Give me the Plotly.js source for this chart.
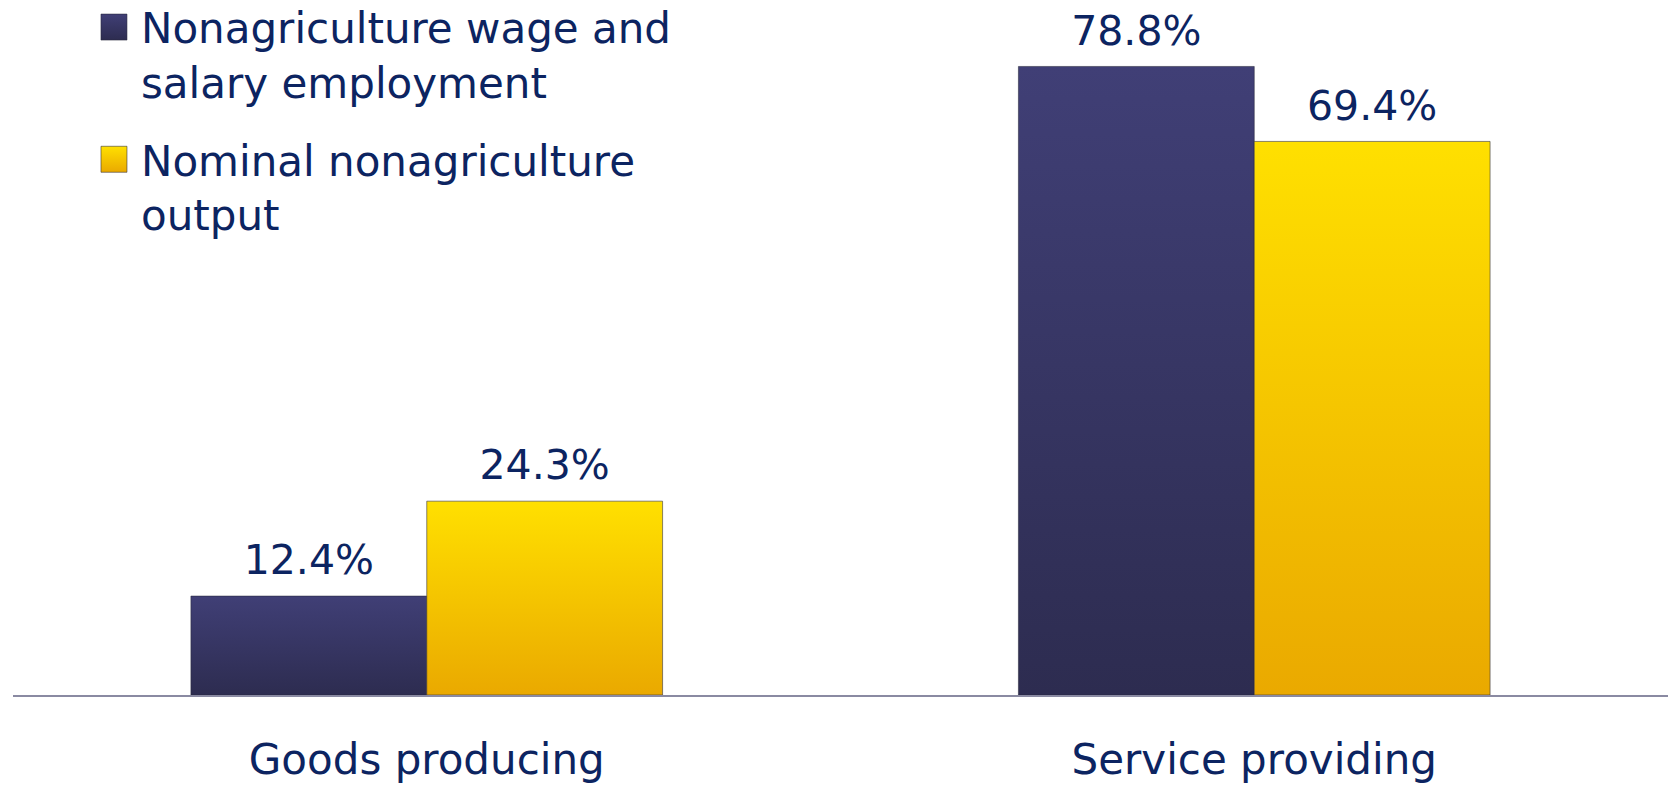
<!DOCTYPE html>
<html>
<head>
<meta charset="utf-8">
<script src="https://cdn.plot.ly/plotly-3.0.1.min.js"></script>
<style>
  html, body { margin: 0; padding: 0; background: #ffffff; }
  #chart { width: 1672px; height: 786px; }
</style>
</head>
<body>
<div id="chart"></div>
<script>
// ---- data ----
const categories = ["Goods producing", "Service providing"];
const seriesNames = [
  "Nonagriculture wage and<br>salary employment",
  "Nominal nonagriculture<br>output"
];
const employmentShare = [12.4, 78.8];
const outputShare = [24.3, 69.4];

const FONT = "'DejaVu Sans', Verdana, sans-serif";
const TXT = "#0c2461";
const BLUE = "#37366a";
const YELLOW = "#f7c600";

function barTrace(name, vals, color, group) {
  return {
    type: "bar",
    name: name,
    x: categories,
    y: vals,
    offsetgroup: group,
    legendgroup: group,
    marker: { color: color, line: { color: "rgba(40,40,60,0.55)", width: 1 } },
    hoverinfo: "skip"
  };
}
function labelTrace(vals, group) {
  return {
    type: "scatter",
    mode: "markers+text",
    x: categories,
    y: vals,
    offsetgroup: group,
    showlegend: false,
    marker: { size: 17, color: "rgba(0,0,0,0)" },
    text: vals.map(v => v.toFixed(1) + "%"),
    textposition: "top center",
    textfont: { family: FONT, size: 41, color: TXT },
    hoverinfo: "skip",
    cliponaxis: false
  };
}

const data = [
  barTrace(seriesNames[0], employmentShare, BLUE, "emp"),
  barTrace(seriesNames[1], outputShare, YELLOW, "out"),
  labelTrace(employmentShare, "emp"),
  labelTrace(outputShare, "out")
];

const layout = {
  width: 1672,
  height: 786,
  margin: { l: 13, r: 4, t: 17, b: 91, autoexpand: false },
  paper_bgcolor: "#ffffff",
  plot_bgcolor: "#ffffff",
  barmode: "group",
  scattermode: "group",
  bargap: 0.43,
  bargroupgap: 0,
  font: { family: FONT, color: TXT },
  showlegend: true,
  legend: {
    x: 0.0447, xanchor: "left",
    y: 1.035, yanchor: "top",
    bgcolor: "rgba(0,0,0,0)",
    font: { family: FONT, size: 42, color: TXT },
    valign: "top",
    itemwidth: 44,
    traceorder: "grouped",
    tracegroupgap: 20
  },
  xaxis: {
    type: "category",
    showline: true,
    linecolor: "#8a8aa2",
    linewidth: 2,
    ticks: "",
    showgrid: false,
    zeroline: false,
    tickfont: { family: FONT, size: 42, color: TXT },
    ticklabelstandoff: 27,
    fixedrange: true
  },
  yaxis: {
    range: [0, 85],
    visible: false,
    showgrid: false,
    zeroline: false,
    fixedrange: true
  }
};

Plotly.newPlot("chart", data, layout, { staticPlot: true, displayModeBar: false }).then(function (gd) {
  const svg = gd.querySelector(".main-svg");
  const ns = "http://www.w3.org/2000/svg";
  let defs = svg.querySelector("defs");
  if (!defs) { defs = document.createElementNS(ns, "defs"); svg.insertBefore(defs, svg.firstChild); }
  function grad(id, top, bottom) {
    const g = document.createElementNS(ns, "linearGradient");
    g.setAttribute("id", id);
    g.setAttribute("x1", "0"); g.setAttribute("y1", "0");
    g.setAttribute("x2", "0"); g.setAttribute("y2", "1");
    [[0, top], [1, bottom]].forEach(function (s) {
      const st = document.createElementNS(ns, "stop");
      st.setAttribute("offset", s[0]);
      st.setAttribute("stop-color", s[1]);
      g.appendChild(st);
    });
    defs.appendChild(g);
  }
  grad("gBlue", "#403f76", "#2d2c50");
  grad("gYellow", "#ffe000", "#eaa900");
  const fills = ["url(#gBlue)", "url(#gYellow)"];
  gd.querySelectorAll(".barlayer .trace").forEach(function (t, i) {
    t.querySelectorAll("path").forEach(function (p) { p.style.fill = fills[i]; });
  });
  gd.querySelectorAll(".legend .traces").forEach(function (t, i) {
    t.querySelectorAll(".legendpoints path").forEach(function (p) {
      p.style.fill = fills[i];
      p.setAttribute("d", "M13,13H-13V-13H13Z");
    });
  });
});
</script>
</body>
</html>
